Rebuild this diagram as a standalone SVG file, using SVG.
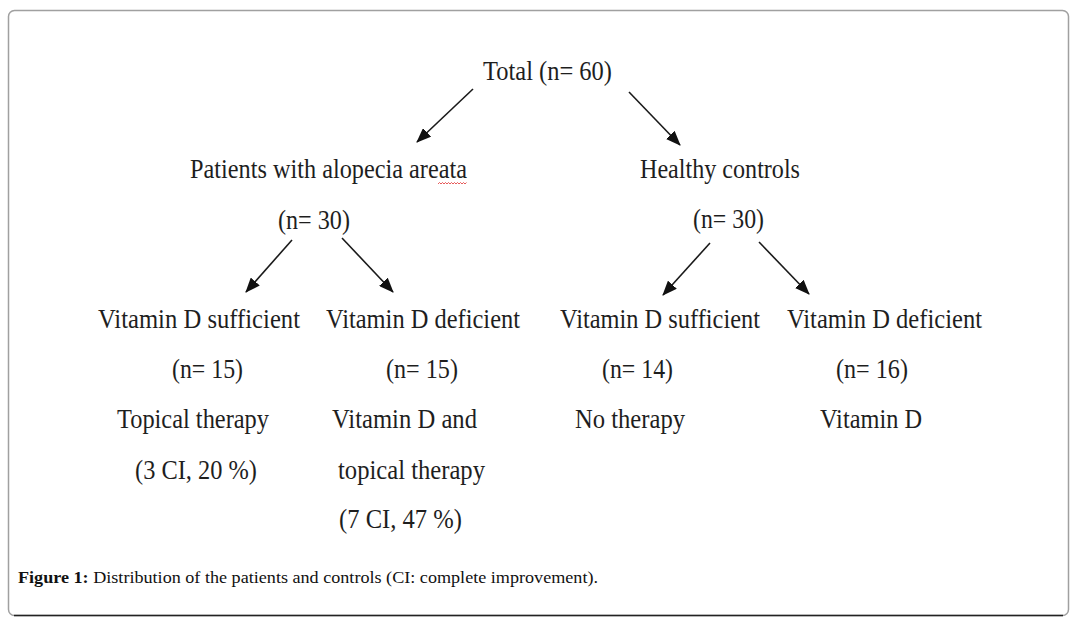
<svg xmlns="http://www.w3.org/2000/svg" width="1075" height="620" viewBox="0 0 1075 620">
<style>
.t{font-family:"Liberation Serif","Times New Roman",serif;font-size:28px;fill:#1e1e1e}
.c{font-family:"Liberation Serif","Times New Roman",serif;font-size:17.5px;fill:#111}
.cb{font-weight:bold}
.e{stroke:#1a1a1a;stroke-width:1.6;fill:none;marker-end:url(#ah)}
</style>
<defs>
<marker id="ah" viewBox="0 0 15 12" refX="14" refY="6" markerWidth="15" markerHeight="12" markerUnits="userSpaceOnUse" orient="auto">
<path d="M0,0 L15,6 L0,12 z" fill="#111"/>
</marker>
</defs>
<rect x="8.5" y="10.5" width="1060" height="605" rx="6" fill="#fff" stroke="#a0a0a0" stroke-width="1.5"/>
<line x1="14" y1="615.5" x2="1063" y2="615.5" stroke="#222" stroke-width="1.5"/>
<g id="connectors">
<line class="e" x1="473" y1="89" x2="417" y2="142"/>
<line class="e" x1="629" y1="92" x2="680" y2="145"/>
<line class="e" x1="292" y1="240" x2="246" y2="292"/>
<line class="e" x1="342" y1="238" x2="393" y2="292"/>
<line class="e" x1="710" y1="243" x2="663" y2="295"/>
<line class="e" x1="759" y1="242" x2="809" y2="294"/>
</g>
<g id="total"><text class="t" x="483" y="80" textLength="129" lengthAdjust="spacingAndGlyphs">Total (n= 60)</text></g>
<g id="patients">
<text class="t" x="190" y="178" textLength="277" lengthAdjust="spacingAndGlyphs">Patients with alopecia areata</text>
<path d="M438,184 l1.5,-1.5 l1.5,1.5 l1.5,-1.5 l1.5,1.5 l1.5,-1.5 l1.5,1.5 l1.5,-1.5 l1.5,1.5 l1.5,-1.5 l1.5,1.5 l1.5,-1.5 l1.5,1.5 l1.5,-1.5 l1.5,1.5 l1.5,-1.5 l1.5,1.5 l1.5,-1.5 l1.5,1.5 l1.5,-1.5" fill="none" stroke="#e03030" stroke-width="0.8"/>
<text class="t" x="278" y="229" textLength="72" lengthAdjust="spacingAndGlyphs">(n= 30)</text>
</g>
<g id="controls">
<text class="t" x="640" y="178" textLength="160" lengthAdjust="spacingAndGlyphs">Healthy controls</text>
<text class="t" x="693" y="228" textLength="71" lengthAdjust="spacingAndGlyphs">(n= 30)</text>
</g>
<g id="p-sufficient">
<text class="t" x="98" y="328" textLength="202" lengthAdjust="spacingAndGlyphs">Vitamin D sufficient</text>
<text class="t" x="172" y="378" textLength="71" lengthAdjust="spacingAndGlyphs">(n= 15)</text>
<text class="t" x="117" y="428" textLength="152" lengthAdjust="spacingAndGlyphs">Topical therapy</text>
<text class="t" x="135" y="479" textLength="122" lengthAdjust="spacingAndGlyphs">(3 CI, 20 %)</text>
</g>
<g id="p-deficient">
<text class="t" x="326" y="328" textLength="194" lengthAdjust="spacingAndGlyphs">Vitamin D deficient</text>
<text class="t" x="386" y="378" textLength="72" lengthAdjust="spacingAndGlyphs">(n= 15)</text>
<text class="t" x="332" y="428" textLength="145" lengthAdjust="spacingAndGlyphs">Vitamin D and</text>
<text class="t" x="338" y="479" textLength="147" lengthAdjust="spacingAndGlyphs">topical therapy</text>
<text class="t" x="339" y="528" textLength="123" lengthAdjust="spacingAndGlyphs">(7 CI, 47 %)</text>
</g>
<g id="c-sufficient">
<text class="t" x="560" y="328" textLength="200" lengthAdjust="spacingAndGlyphs">Vitamin D sufficient</text>
<text class="t" x="602" y="378" textLength="71" lengthAdjust="spacingAndGlyphs">(n= 14)</text>
<text class="t" x="575" y="428" textLength="110" lengthAdjust="spacingAndGlyphs">No therapy</text>
</g>
<g id="c-deficient">
<text class="t" x="787" y="328" textLength="195" lengthAdjust="spacingAndGlyphs">Vitamin D deficient</text>
<text class="t" x="836" y="378" textLength="72" lengthAdjust="spacingAndGlyphs">(n= 16)</text>
<text class="t" x="820" y="428" textLength="102" lengthAdjust="spacingAndGlyphs">Vitamin D</text>
</g>
<g id="caption">
<text class="c" x="18" y="583" textLength="580" lengthAdjust="spacingAndGlyphs"><tspan class="cb">Figure 1:</tspan> Distribution of the patients and controls (CI: complete improvement).</text>
</g>
</svg>
